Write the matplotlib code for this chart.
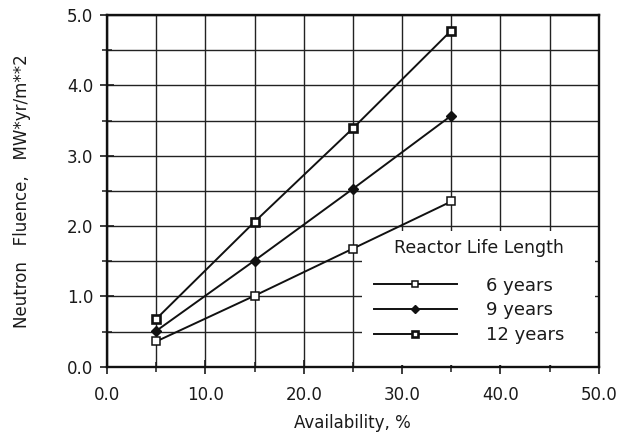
import numpy as np
import matplotlib
matplotlib.use("Agg")
import matplotlib.pyplot as plt
from matplotlib.ticker import MultipleLocator, FormatStrFormatter
from matplotlib.patches import Rectangle

plt.rcParams.update({
    "font.family": "DejaVu Sans",
    "font.size": 12,
    "text.color": "#1a1a1a",
    "axes.labelcolor": "#1a1a1a",
    "xtick.color": "#1a1a1a",
    "ytick.color": "#1a1a1a",
})

# availability (%) vs end-of-life neutron fluence
availability = [5, 15, 25, 35]
fluence_6yr = [0.36, 1.01, 1.68, 2.35]
fluence_9yr = [0.51, 1.51, 2.53, 3.57]
fluence_12yr = [0.68, 2.06, 3.39, 4.78]
series_labels = ["6 years", "9 years", "12 years"]

fig = plt.figure(figsize=(6.41, 4.32), dpi=100)
ax = fig.add_axes([0.167, 0.151, 0.767, 0.814])

ax.set_xlim(0, 50)
ax.set_ylim(0, 5)
ax.xaxis.set_major_locator(MultipleLocator(10))
ax.xaxis.set_minor_locator(MultipleLocator(5))
ax.yaxis.set_major_locator(MultipleLocator(1))
ax.yaxis.set_minor_locator(MultipleLocator(0.5))
ax.xaxis.set_major_formatter(FormatStrFormatter("%.1f"))
ax.yaxis.set_major_formatter(FormatStrFormatter("%.1f"))
ax.tick_params(which="major", direction="inout", length=10, width=1.2, labelsize=12)
ax.tick_params(which="minor", direction="inout", length=7, width=1.1)
ax.tick_params(axis="x", which="major", pad=9)
ax.tick_params(axis="y", which="major", pad=5)

ax.set_axisbelow(True)
ax.grid(True, which="both", color="#222222", lw=1.0)
for s in ax.spines.values():
    s.set_linewidth(1.7)
    s.set_color("#111111")
    s.set_zorder(4)

# blank backdrop behind the legend
ax.add_patch(Rectangle((0.518, 0.006), 0.474, 0.38, transform=ax.transAxes,
                       facecolor="white", edgecolor="none", zorder=1))

l6, = ax.plot(availability, fluence_6yr, color="#111", lw=1.4, marker="s", ms=6,
              mfc="white", mec="#111", mew=1.1, zorder=3)
l9, = ax.plot(availability, fluence_9yr, color="#111", lw=1.4, marker="D", ms=5,
              mfc="#111", mec="#111", zorder=3)
l12, = ax.plot(availability, fluence_12yr, color="#111", lw=1.4, marker="s", ms=6,
               mfc="white", mec="#111", mew=1.9, zorder=3)

leg = ax.legend([l6, l9, l12], series_labels, title="Reactor Life Length",
                loc="lower right", bbox_to_anchor=(0.955, 0.028), frameon=False,
                fontsize=13, title_fontsize=12.5, handlelength=4.6, handletextpad=1.6,
                labelspacing=0.38, markerscale=0.8, borderpad=0.2)
leg._legend_box.align = "right"
leg._legend_box.sep = 14

ax.set_xlabel("Availability, %", fontsize=12, labelpad=7)
ax.set_ylabel("Neutron   Fluence,   MW*yr/m**2", fontsize=12, labelpad=26)

fig.savefig("out.png", dpi=100)
